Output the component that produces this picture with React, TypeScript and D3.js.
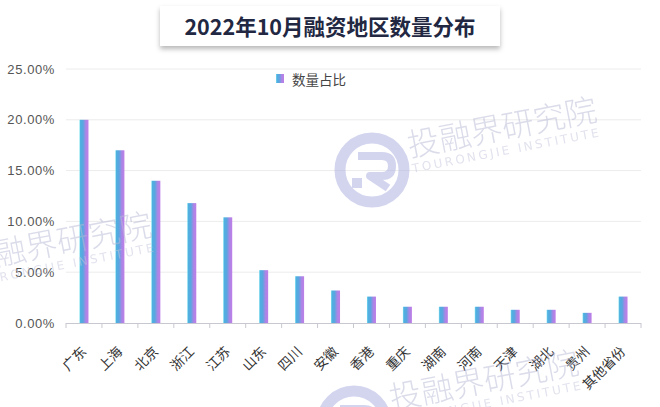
import React from "react";
import * as d3 from "d3";

const categories = ["广东", "上海", "北京", "浙江", "江苏", "山东", "四川", "安徽", "香港", "重庆", "湖南", "河南", "天津", "湖北", "贵州", "其他省份"];
const shares = [20.0, 17.0, 14.0, 11.8, 10.4, 5.2, 4.6, 3.2, 2.6, 1.6, 1.6, 1.6, 1.3, 1.3, 1.0, 2.6];
const yTicks = [0, 5, 10, 15, 20, 25];
const seriesName = "数量占比";
const title = "2022年10月融资地区数量分布";

const W = 660, H = 407;
const M = { left: 66, right: 19, top: 69, bottom: 84 };

function Watermark({ x, y }: { x: number; y: number }) {
  return (
    <g transform={`translate(${x},${y})`} opacity={0.5}>
      <g transform="translate(-38,13)">
        <circle r={32} fill="none" stroke="#a9acdf" strokeWidth={11} />
        <path d="M-14,-14 L10,-14 Q20,-14 20,-4 Q20,6 10,6 L-2,6 L16,18" fill="none" stroke="#a9acdf" strokeWidth={8} strokeLinejoin="round" />
        <rect x={-20} y={8} width={10} height={10} fill="#a9acdf" />
      </g>
      <g transform="rotate(-11)">
        <text x={0} y={0} fontSize={32} fill="#b8bad6" fontFamily="'Noto Sans CJK SC', sans-serif" fontWeight={300}>投融界研究院</text>
        <text x={0} y={16} fontSize={12} fill="#c4c6dc" letterSpacing={2.5} fontFamily="'DejaVu Sans', sans-serif">TOURONGJIE INSTITUTE</text>
      </g>
    </g>
  );
}

export default function App() {
  const x = d3.scaleBand<string>().domain(categories).range([M.left, W - M.right]).paddingInner(0).paddingOuter(0);
  const y = d3.scaleLinear().domain([0, 25]).range([H - M.bottom, M.top]);
  const bw = 9;
  const bottom = y(0);

  return (
    <svg width={W} height={H} style={{ position: "absolute", left: 0, top: 0, background: "#fff" }}
      fontFamily="'Noto Sans CJK SC', 'Noto Sans', sans-serif">
      <defs>
        <linearGradient id="barGrad" x1="0" x2="1" y1="0" y2="0">
          <stop offset="0" stopColor="#7fe0f0" />
          <stop offset="0.12" stopColor="#4fb0e0" />
          <stop offset="0.4" stopColor="#5aa6e0" />
          <stop offset="0.7" stopColor="#a986e6" />
          <stop offset="1" stopColor="#bf7ee8" />
        </linearGradient>
        <filter id="shadow" x="-10%" y="-30%" width="120%" height="170%">
          <feDropShadow dx="0" dy="3" stdDeviation="2.5" floodColor="#000" floodOpacity="0.28" />
        </filter>
      </defs>
      <rect x={0} y={0} width={W} height={H} fill="#fff" />

      {/* title */}
      <rect x={160} y={6} width={340} height={40} fill="#fff" filter="url(#shadow)" />
      <text x={330} y={35} textAnchor="middle" fontSize={21.5} fontWeight={700} fill="#222742">{title}</text>

      {/* legend */}
      <rect x={276} y={74} width={8} height={9} fill="url(#barGrad)" />
      <text x={292} y={84.5} fontSize={13.5} fill="#444">{seriesName}</text>

      {/* grid + y labels */}
      {yTicks.map((t) => (
        <g key={t}>
          {t > 0 && <line x1={M.left} x2={W - M.right} y1={y(t)} y2={y(t)} stroke="#ececec" strokeWidth={1} />}
          <text x={55} y={y(t) + 4.5} textAnchor="end" fontSize={13} fill="#555" letterSpacing={0.6}
            fontFamily="'Liberation Sans', Arial, sans-serif">{t.toFixed(2) + "%"}</text>
        </g>
      ))}

      {/* bars */}
      {categories.map((c, i) => {
        const cx = (x(c) as number) + x.bandwidth() / 2;
        return (
          <rect key={c} x={cx - bw / 2} y={y(shares[i])} width={bw} height={bottom - y(shares[i])} fill="url(#barGrad)" />
        );
      })}

      {/* x axis */}
      <line x1={M.left} x2={W - M.right} y1={bottom + 0.5} y2={bottom + 0.5} stroke="#c8c8d0" />
      {categories.concat(["_end"]).map((c, i) => {
        const xx = M.left + i * x.bandwidth();
        return <line key={c} x1={xx} x2={xx} y1={bottom} y2={bottom + 5} stroke="#c8c8d0" />;
      })}
      {categories.map((c) => {
        const cx = (x(c) as number) + x.bandwidth() / 2;
        return (
          <text key={c} transform={`translate(${cx},${bottom + 26}) rotate(-45)`} textAnchor="end" fontSize={13.5} fill="#333" dy="0.35em">{c}</text>
        );
      })}

      {/* watermarks */}
      <Watermark x={410} y={157} />
      <Watermark x={-35} y={272} />
      <Watermark x={392} y={410} />
    </svg>
  );
}
